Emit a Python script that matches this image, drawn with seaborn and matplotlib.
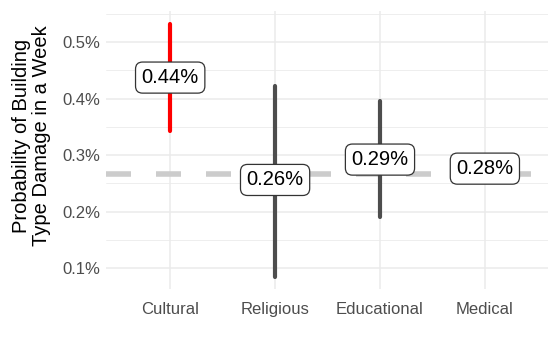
import matplotlib
matplotlib.use("Agg")
import matplotlib.pyplot as plt
import matplotlib.ticker as mticker
import seaborn as sns
import pandas as pd

categories = ["Cultural", "Religious", "Educational", "Medical"]
estimates = [0.437, 0.256, 0.292, 0.276]      # % probability
lower = [0.342, 0.084, 0.190, 0.270]
upper = [0.532, 0.423, 0.395, 0.285]
reference_level = 0.267
bar_colors = ["#ff0000", "#4d4d4d", "#4d4d4d", "#4d4d4d"]
y_ticks = [0.1, 0.2, 0.3, 0.4, 0.5]

sns.set_theme(style="white")
plt.rcParams["font.family"] = ["Liberation Sans", "DejaVu Sans"]

df = pd.DataFrame({
    "cat": categories * 2,
    "val": lower + upper,
})

fig = plt.figure(figsize=(5.59, 3.5), dpi=100)
ax = fig.add_axes([0.19, 0.174, 0.79, 0.795])

# grid
ax.set_yticks(y_ticks)
ax.yaxis.set_minor_locator(mticker.FixedLocator([0.15, 0.25, 0.35, 0.45, 0.55]))
ax.grid(True, which="major", color="#ebebeb", lw=1.1, zorder=0)
ax.grid(True, which="minor", axis="y", color="#ebebeb", lw=0.6, zorder=0)
ax.set_axisbelow(True)

ax.axhline(reference_level, color="#cccccc", lw=4, dashes=(4.5, 4.5), zorder=1)

sns.lineplot(data=df, x="cat", y="val", hue="cat", units="cat", estimator=None,
             palette=dict(zip(categories, bar_colors)), linewidth=3,
             legend=False, ax=ax, zorder=2, sort=False)

for i, (c, v) in enumerate(zip(categories, estimates)):
    ax.text(i, v, f"{v:.2f}%", ha="center", va="center", fontsize=14.5,
            color="black", zorder=4,
            bbox=dict(boxstyle="round,pad=0.3,rounding_size=0.35",
                      fc="white", ec="#333333", lw=0.9))

ax.set_xlim(-0.61, 3.6)
ax.set_ylim(0.063, 0.555)
ax.yaxis.set_major_formatter(mticker.FuncFormatter(lambda v, p: f"{v:.1f}%"))
ax.tick_params(axis="both", which="both", length=0, labelsize=12,
               labelcolor="#4d4d4d")
ax.tick_params(axis="x", pad=9)
ax.tick_params(axis="y", pad=4)
for s in ax.spines.values():
    s.set_visible(False)
ax.set_xlabel("")
ax.set_ylabel("Probability of Building\nType Damage in a Week", fontsize=14.5,
              color="black", linespacing=1.05)
ax.yaxis.set_label_coords(-0.125, 0.55)

fig.savefig("out.png", dpi=100)
